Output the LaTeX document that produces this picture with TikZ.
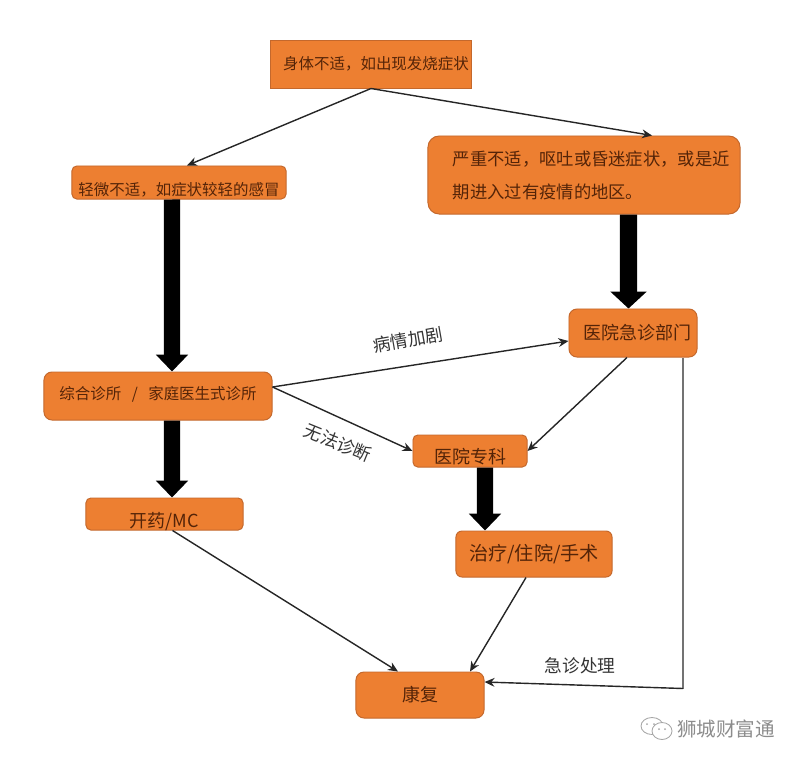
\documentclass[tikz,border=0pt]{standalone}
\usepackage{fontspec}
\setmainfont{Noto Sans CJK SC}
\usetikzlibrary{arrows.meta}
\definecolor{ocre}{RGB}{237,127,49}
\definecolor{ocreline}{RGB}{196,104,44}
\definecolor{inkbrown}{RGB}{84,36,8}
\definecolor{inkgray}{RGB}{52,52,52}
\tikzset{
  box/.style={draw=ocreline,fill=ocre,text=inkbrown,line width=0.7pt,rounded corners=0.12cm,inner sep=0pt,align=center},
  small/.style={font=\fontsize{11}{13}\selectfont},
  big/.style={font=\fontsize{12.8}{15}\selectfont},
  thin arrow/.style={-{Stealth[length=0.25cm,width=0.22cm]},line width=1pt,draw=black!85},
  fat arrow/.style={line width=0.41cm,-{Triangle[length=0.42cm,width=0.78cm]}},
  note/.style={text=inkgray,font=\fontsize{12.6}{15}\selectfont}
}
\begin{document}
\begin{tikzpicture}[x=0.025cm,y=-0.025cm]
\useasboundingbox (0,0) rectangle (800,763);
\node [box,small,sharp corners,minimum width=5cm,minimum height=1.2cm] (start) at (371,64) {\hspace*{0.25cm}身体不适，如出现发烧症状};
\node [box,small,minimum width=5.35cm,minimum height=0.825cm] (mild) at (179,182.5) {\raisebox{-0.335cm}[0pt][0pt]{轻微不适，如症状较轻的感冒}};
\node [box,font=\fontsize{12.3}{23.4}\selectfont,rounded corners=0.28cm,minimum width=7.8cm,minimum height=1.95cm,text width=7.6cm,align=left] (severe) at (584,175) {\hspace*{0.525cm}严重不适，呕吐或昏迷症状，或是近\\\hspace*{0.525cm}期进入过有疫情的地区。};
\node [box,big,rounded corners=0.2cm,minimum width=3.2cm,minimum height=1.2cm] (emergency) at (633,333) {\hspace*{0.2cm}医院急诊部门};
\node [box,small,rounded corners=0.2cm,minimum width=5.7cm,minimum height=1.2cm] (clinic) at (158,396) {\raisebox{-0.097cm}[0pt][0pt]{综合诊所\hspace{0.175cm} / \hspace{0.175cm}家庭医生式诊所}};
\node [box,big,minimum width=2.85cm,minimum height=0.8cm] (specialist) at (470,451) {\raisebox{-0.3cm}[0pt][0pt]{医院专科}};
\node [box,big,minimum width=3.925cm,minimum height=0.8cm] (medicine) at (164.5,514) {\raisebox{-0.345cm}[0pt][0pt]{开药/MC}};
\node [box,font=\fontsize{13.6}{15}\selectfont,rounded corners=0.15cm,minimum width=3.9cm,minimum height=1.15cm] (treatment) at (534,554) {治疗/住院/手术};
\node [box,big,rounded corners=0.2cm,minimum width=3.2cm,minimum height=1.15cm] (recovery) at (420,695) {康复};

\draw [thin arrow] (start.south) -- ([xshift=0.2cm]mild.north);
\draw [thin arrow] (start.south) -- ([xshift=1.7cm]severe.north);
\draw [thin arrow] ([yshift=0.225cm]clinic.east) -- ([yshift=-0.2cm]emergency.west);
\draw [thin arrow] ([yshift=0.225cm]clinic.east) -- (specialist.west);
\draw [thin arrow] ([xshift=-0.15cm]emergency.south) -- (specialist.east);
\draw [thin arrow] ([xshift=0.2cm]medicine.south) -- ([xshift=-0.55cm]recovery.north);
\draw [thin arrow] ([xshift=-0.2cm]treatment.south) -- ([xshift=1.25cm]recovery.north);
\draw [draw=black!55,line width=0.9pt] ([xshift=1.25cm]emergency.south) -- ++(0,331) coordinate (corner);
\draw [thin arrow] (corner) -- ([yshift=0.325cm]recovery.east);

\draw [fat arrow] ([xshift=-0.175cm]mild.south) -- ([xshift=0.35cm]clinic.north);
\draw [fat arrow] ([xshift=0.35cm]clinic.south) -- ([xshift=0.1875cm]medicine.north);
\draw [fat arrow,line width=0.43cm,-{Triangle[length=0.42cm,width=0.88cm]}] ([xshift=1.1125cm]severe.south) -- ([xshift=-0.1125cm]emergency.north);
\draw [fat arrow] ([xshift=0.375cm]specialist.south) -- ([xshift=-1.225cm]treatment.north);

\node [note,rotate=10] (worse) at (408,340) {病情加剧};
\node [note,rotate=-22] (unknown) at (338,443) {无法诊断};
\node [note] (handled) at (580,666) {急诊处理};

% watermark
\node [text=black!45,font=\fontsize{13.9}{15}\selectfont] (mark) at (726,729) {狮城财富通};
\draw [black!35,line width=0.6pt] (652,726) ellipse (11 and 8.5);
\draw [black!35,line width=0.6pt,fill=white] (662,731) ellipse (10 and 8.5);
\fill [black!35] (647,724) circle (1) (654,724) circle (1) (659,729) circle (1) (665,729) circle (1);
\end{tikzpicture}
\end{document}
